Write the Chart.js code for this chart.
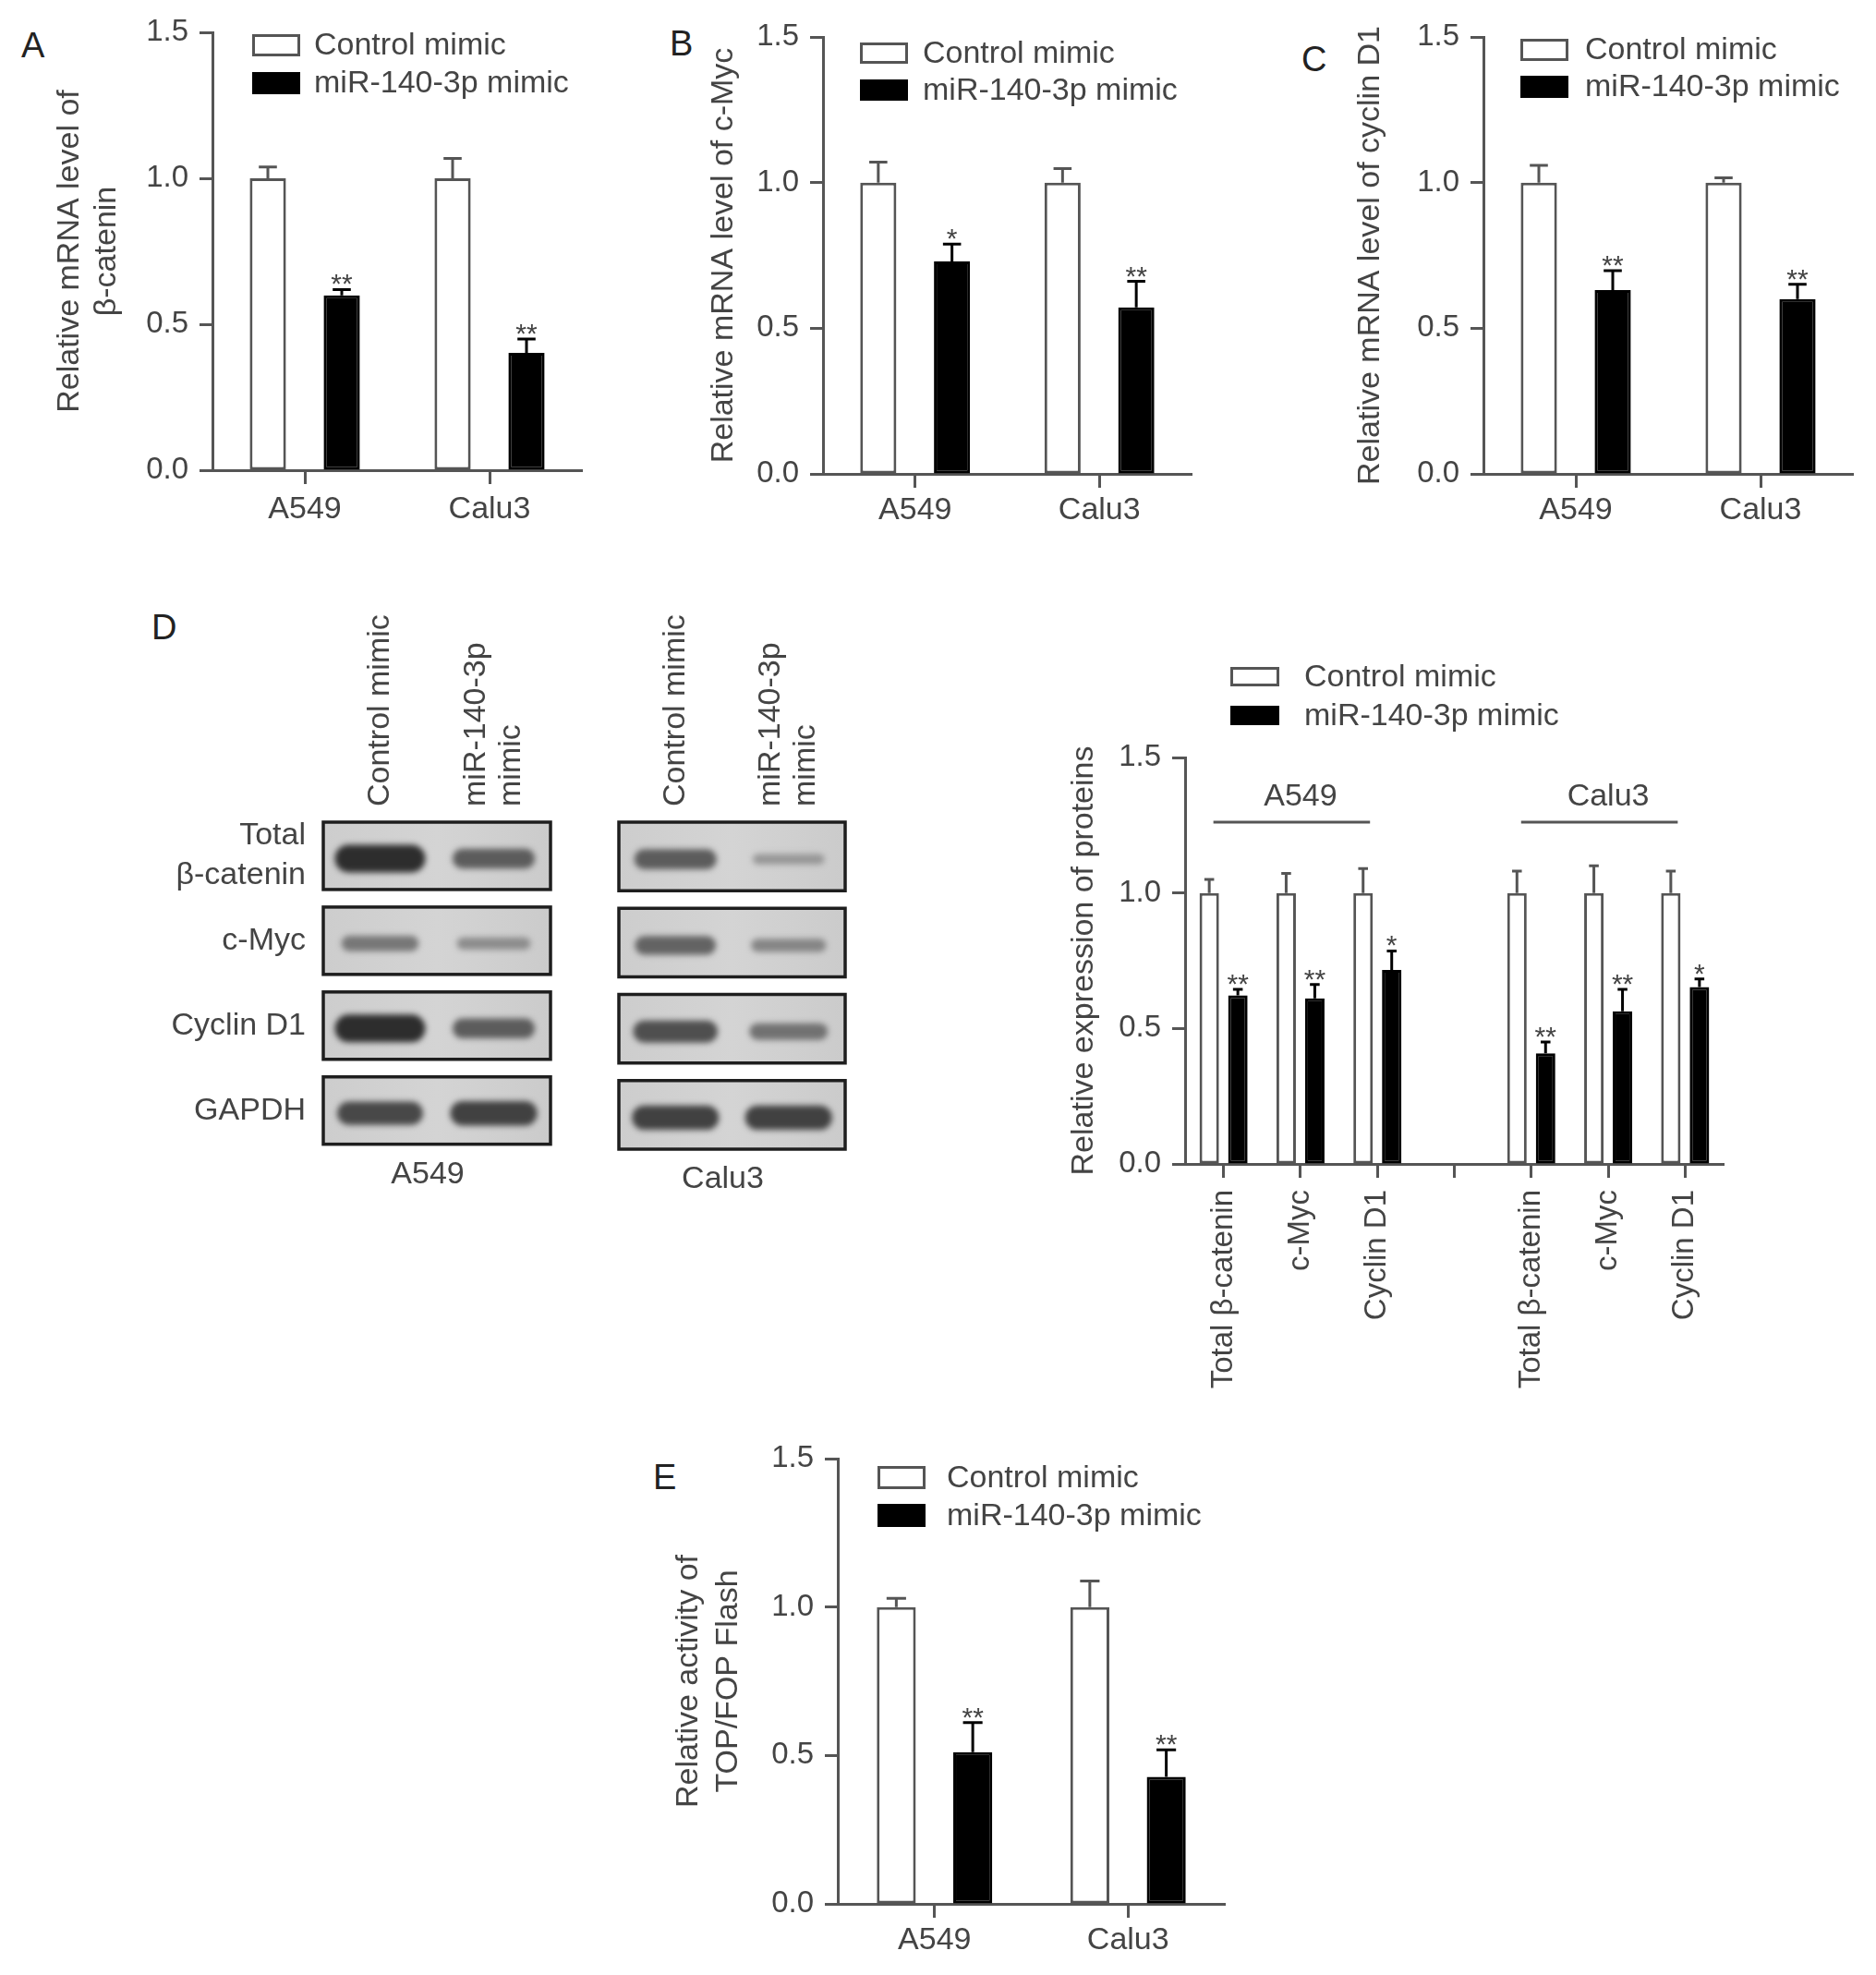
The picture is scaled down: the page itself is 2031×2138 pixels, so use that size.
<!DOCTYPE html>
<html lang="en">
<head>
<meta charset="UTF-8">
<title>miR-140-3p and Wnt/β-catenin targets</title>
<script src="https://cdn.jsdelivr.net/npm/chart.js"></script>
<style>
  html, body { margin: 0; padding: 0; background: #fff; overflow: hidden; }
  #page { position: relative; width: 2031px; height: 2138px; font-family: 'Liberation Sans', Arial, Helvetica, sans-serif; }
  #page canvas { position: absolute; }
  .tag { position: absolute; font-size: 38px; line-height: 1; color: #222; }
</style>
</head>
<body>
<div id="page">
  <div class="tag" style="left:23px;top:30px">A</div>
  <div class="tag" style="left:725px;top:28px">B</div>
  <div class="tag" style="left:1409px;top:45px">C</div>
  <div class="tag" style="left:164px;top:660px">D</div>
  <div class="tag" style="left:707px;top:1580px">E</div>

  <canvas id="chartA" width="660" height="600" style="left:0;top:0"></canvas>
  <canvas id="chartB" width="620" height="600" style="left:700px;top:0"></canvas>
  <canvas id="chartC" width="651" height="600" style="left:1380px;top:0"></canvas>
  <canvas id="blotA549" width="470" height="670" style="left:150px;top:640px"></canvas>
  <canvas id="blotCalu3" width="300" height="670" style="left:640px;top:640px"></canvas>
  <canvas id="chartD" width="770" height="830" style="left:1130px;top:700px"></canvas>
  <canvas id="chartE" width="680" height="598" style="left:680px;top:1540px"></canvas>
</div>
<script>
// ---- data ----
const cellLines = ['A549', 'Calu3'];
const seriesNames = ['Control mimic', 'miR-140-3p mimic'];

// A: beta-catenin mRNA
const betaCtrl = [1.0, 1.0];
const betaCtrlErr = [0.039, 0.068];
const betaMir = [0.599, 0.402];
const betaMirErr = [0.020, 0.047];
const betaSig = ['**', '**'];

// B: c-Myc mRNA
const mycCtrl = [1.0, 1.0];
const mycCtrlErr = [0.070, 0.048];
const mycMir = [0.729, 0.572];
const mycMirErr = [0.060, 0.089];
const mycSig = ['*', '**'];

// C: cyclin D1 mRNA
const cycCtrl = [1.0, 1.0];
const cycCtrlErr = [0.059, 0.016];
const cycMir = [0.631, 0.600];
const cycMirErr = [0.067, 0.051];
const cycSig = ['**', '**'];

// D: protein quantification (middle slot is the gap between cell lines)
const proteinLabels = ['Total β-catenin', 'c-Myc', 'Cyclin D1', '', 'Total β-catenin', 'c-Myc', 'Cyclin D1'];
const protCtrl = [1.0, 1.0, 1.0, null, 1.0, 1.0, 1.0];
const protCtrlErr = [0.050, 0.072, 0.090, null, 0.081, 0.100, 0.081];
const protMir = [0.622, 0.611, 0.716, null, 0.408, 0.563, 0.653];
const protMirErr = [0.022, 0.051, 0.070, null, 0.042, 0.081, 0.030];
const protSig = ['**', '**', '*', '', '**', '**', '*'];
const protGroups = [{ label: 'A549', from: 0, to: 2 }, { label: 'Calu3', from: 4, to: 6 }];

// D: western blot band strength (0..1) per protein row, per lane
const lanes = ['Control mimic', 'miR-140-3p mimic'];
const laneLines = [['Control mimic'], ['miR-140-3p', 'mimic']];
const blotProteins = ['Total β-catenin', 'c-Myc', 'Cyclin D1', 'GAPDH'];
const a549Bands = [[1.0, 0.65], [0.45, 0.30], [1.0, 0.65], [0.80, 0.85]];
const calu3Bands = [[0.65, 0.22], [0.60, 0.35], [0.75, 0.50], [0.85, 0.85]];

// E: TOP/FOP flash
const topCtrl = [1.0, 1.0];
const topCtrlErr = [0.029, 0.088];
const topMir = [0.511, 0.428];
const topMirErr = [0.100, 0.091];
const topSig = ['**', '**'];

// ---- styling ----
const FONT = "'Liberation Sans', Arial, Helvetica, sans-serif";
const AXIS = '#555555';
const TEXT = '#444444';
Chart.defaults.font.family = FONT;
Chart.defaults.color = TEXT;

// error bars (upward only) plus significance stars
const errorBars = {
  id: 'errorBars',
  afterDatasetsDraw(chart) {
    const ctx = chart.ctx;
    const y = chart.scales.y;
    chart.data.datasets.forEach((ds, di) => {
      if (!ds.errors) return;
      chart.getDatasetMeta(di).data.forEach((bar, i) => {
        const v = ds.data[i], e = ds.errors[i];
        if (v == null || e == null) return;
        const top = y.getPixelForValue(v + e);
        const half = bar.width / 4;
        ctx.save();
        ctx.strokeStyle = ds.borderColor;
        ctx.lineWidth = 3;
        ctx.beginPath();
        ctx.moveTo(bar.x, bar.y);
        ctx.lineTo(bar.x, top);
        ctx.moveTo(bar.x - half, top);
        ctx.lineTo(bar.x + half, top);
        ctx.stroke();
        if (ds.marks && ds.marks[i]) {
          ctx.fillStyle = TEXT;
          ctx.font = '30px ' + FONT;
          ctx.textAlign = 'center';
          ctx.textBaseline = 'alphabetic';
          ctx.fillText(ds.marks[i], bar.x, top + 4);
        }
        ctx.restore();
      });
    });
  }
};

// legend with open / filled boxes placed relative to the plot area
const boxLegend = {
  id: 'boxLegend',
  afterDraw(chart, args, opts) {
    const { ctx, chartArea } = chart;
    chart.data.datasets.forEach((ds, i) => {
      const x = chartArea.left + opts.dx;
      const y = chartArea.top + opts.dy + i * opts.step;
      ctx.save();
      ctx.fillStyle = ds.backgroundColor;
      ctx.fillRect(x, y, opts.w, opts.h);
      ctx.strokeStyle = ds.borderColor;
      ctx.lineWidth = 3;
      ctx.strokeRect(x + 1.5, y + 1.5, opts.w - 3, opts.h - 3);
      ctx.fillStyle = TEXT;
      ctx.font = '34px ' + FONT;
      ctx.textBaseline = 'middle';
      ctx.textAlign = 'left';
      ctx.fillText(ds.label, x + opts.w + opts.gap, y + opts.h / 2 + 1);
      ctx.restore();
    });
  }
};

// cell-line brackets over the protein bars
const groupBrackets = {
  id: 'groupBrackets',
  afterDraw(chart, args, opts) {
    const { ctx } = chart;
    const x = chart.scales.x, y = chart.scales.y;
    const ly = y.getPixelForValue(opts.level);
    opts.groups.forEach(g => {
      const x0 = x.getPixelForValue(g.from) - 11;
      const x1 = x.getPixelForValue(g.to) - 8;
      ctx.save();
      ctx.strokeStyle = AXIS;
      ctx.lineWidth = 3;
      ctx.beginPath();
      ctx.moveTo(x0, ly);
      ctx.lineTo(x1, ly);
      ctx.stroke();
      ctx.fillStyle = TEXT;
      ctx.font = '34px ' + FONT;
      ctx.textAlign = 'center';
      ctx.textBaseline = 'middle';
      ctx.fillText(g.label, (x.getPixelForValue(g.from) + x.getPixelForValue(g.to)) / 2, ly - 27);
      ctx.restore();
    });
  }
};

function barPanel(id, o) {
  return new Chart(document.getElementById(id), {
    type: 'bar',
    data: {
      labels: o.labels,
      datasets: [
        { label: seriesNames[0], data: o.ctrl, errors: o.ctrlErr,
          backgroundColor: '#ffffff', borderColor: AXIS, borderWidth: 3, borderSkipped: false,
          categoryPercentage: o.cp, barPercentage: o.bp },
        { label: seriesNames[1], data: o.mir, errors: o.mirErr, marks: o.marks,
          backgroundColor: '#000000', borderColor: '#000000', borderWidth: 3, borderSkipped: false,
          categoryPercentage: o.cp, barPercentage: o.bp }
      ]
    },
    options: {
      responsive: false,
      animation: false,
      devicePixelRatio: 1,
      layout: { padding: o.pad },
      plugins: {
        legend: { display: false },
        tooltip: { enabled: false },
        boxLegend: o.legend,
        groupBrackets: o.brackets || {}
      },
      scales: {
        x: {
          grid: { display: true, drawOnChartArea: false, offset: false, tickLength: 15, tickWidth: 3, tickColor: AXIS },
          border: { display: true, color: AXIS, width: 3 },
          ticks: { font: { size: o.xFont || 34 }, color: TEXT, padding: o.xPad,
                   autoSkip: false, minRotation: o.rot || 0, maxRotation: o.rot || 0 },
          afterFit: s => { s.height = o.xH; }
        },
        y: {
          min: 0, max: 1.5,
          grid: { display: true, drawOnChartArea: false, tickLength: 14, tickWidth: 3, tickColor: AXIS },
          border: { display: true, color: AXIS, width: 3 },
          ticks: { stepSize: 0.5, callback: v => Number(v).toFixed(1), font: { size: 33 }, color: TEXT, padding: 12 },
          title: { display: true, text: o.title, color: TEXT,
                   font: { size: 34, lineHeight: o.titleLH || 1.2 }, padding: { top: o.titlePad, bottom: 0 } },
          afterFit: s => { s.width = o.yW; }
        }
      }
    },
    plugins: [errorBars, boxLegend].concat(o.extra || [])
  });
}

barPanel('chartA', {
  labels: cellLines, ctrl: betaCtrl, ctrlErr: betaCtrlErr, mir: betaMir, mirErr: betaMirErr, marks: betaSig,
  cp: 0.8, bp: 0.49, pad: { top: 35, right: 30, left: 0, bottom: 0 }, yW: 230, xH: 91, xPad: 7,
  title: ['Relative mRNA level of', 'β-catenin'], titleLH: 1.15, titlePad: 56.5,
  legend: { dx: 43, dy: 2, w: 52, h: 24, step: 41, gap: 15 }
});

barPanel('chartB', {
  labels: cellLines, ctrl: mycCtrl, ctrlErr: mycCtrlErr, mir: mycMir, mirErr: mycMirErr, marks: mycSig,
  cp: 0.8, bp: 0.49, pad: { top: 40, right: 30, left: 0, bottom: 0 }, yW: 191, xH: 87, xPad: 4,
  title: 'Relative mRNA level of c-Myc', titlePad: 63.6,
  legend: { dx: 40, dy: 6, w: 52, h: 23, step: 40, gap: 16 }
});

barPanel('chartC', {
  labels: cellLines, ctrl: cycCtrl, ctrlErr: cycCtrlErr, mir: cycMir, mirErr: cycMirErr, marks: cycSig,
  cp: 0.8, bp: 0.49, pad: { top: 40, right: 25, left: 0, bottom: 0 }, yW: 226, xH: 87, xPad: 4,
  title: 'Relative mRNA level of cyclin D1', titlePad: 83.6,
  legend: { dx: 40, dy: 2, w: 52, h: 24, step: 40, gap: 18 }
});

barPanel('chartD', {
  labels: proteinLabels, ctrl: protCtrl, ctrlErr: protCtrlErr, mir: protMir, mirErr: protMirErr, marks: protSig,
  cp: 0.744, bp: 0.68, pad: { top: 120, right: 34, left: 0, bottom: 0 }, yW: 153, xH: 270, xPad: 13,
  rot: 90, xFont: 33,
  title: 'Relative expression of proteins', titlePad: 23.6,
  legend: { dx: 49, dy: -98, w: 53, h: 21, step: 42, gap: 27 },
  brackets: { level: 1.261, groups: protGroups },
  extra: [groupBrackets]
});

barPanel('chartE', {
  labels: cellLines, ctrl: topCtrl, ctrlErr: topCtrlErr, mir: topMir, mirErr: topMirErr, marks: topSig,
  cp: 0.79, bp: 0.51, pad: { top: 39, right: 34, left: 0, bottom: 0 }, yW: 227, xH: 77, xPad: 4,
  title: ['Relative activity of', 'TOP/FOP Flash'], titleLH: 1.265, titlePad: 44.5,
  legend: { dx: 43, dy: 8, w: 52, h: 25, step: 41, gap: 23 }
});

// ---- western blot panels ----
const blotDraw = {
  id: 'blotDraw',
  beforeDatasetsDraw(chart) {
    const { ctx, chartArea } = chart;
    const ys = chart.scales.y;
    const pitch = ys.getPixelForValue(1) - ys.getPixelForValue(0);
    const boxes = blotProteins.map((p, i) => {
      const cy = ys.getPixelForValue(i);
      return { x: chartArea.left, y: cy - pitch / 2 + 9.5, w: chartArea.right - chartArea.left, h: pitch - 19 };
    });
    ctx.save();
    boxes.forEach(b => {
      const g = ctx.createLinearGradient(b.x, 0, b.x + b.w, 0);
      g.addColorStop(0, '#cdcdcd');
      g.addColorStop(0.5, '#d4d4d4');
      g.addColorStop(1, '#cbcbcb');
      ctx.fillStyle = g;
      ctx.fillRect(b.x, b.y, b.w, b.h);
    });
    const ds = chart.data.datasets[0];
    chart.getDatasetMeta(0).data.forEach((pt, i) => {
      const v = ds.data[i].v;
      const w = 72 + 26 * v, h = 6 + 24 * v;
      const c = Math.round(45 + (1 - v) * 135);
      ctx.save();
      ctx.filter = 'blur(3px)';
      ctx.fillStyle = 'rgb(' + c + ',' + c + ',' + c + ')';
      ctx.beginPath();
      ctx.roundRect(pt.x - w / 2, pt.y + 3 - h / 2, w, h, h / 2);
      ctx.fill();
      ctx.restore();
    });
    ctx.strokeStyle = '#1e1e1e';
    ctx.lineWidth = 3.5;
    boxes.forEach(b => ctx.strokeRect(b.x, b.y, b.w, b.h));
    ctx.restore();
  },
  afterDraw(chart, args, opts) {
    const { ctx, chartArea } = chart;
    const xs = chart.scales.x;
    ctx.save();
    ctx.fillStyle = TEXT;
    ctx.font = '34px ' + FONT;
    laneLines.forEach((lines, li) => {
      const px = xs.getPixelForValue(li);
      ctx.save();
      ctx.translate(px, chartArea.top - 7.5);
      ctx.rotate(-Math.PI / 2);
      ctx.textAlign = 'left';
      ctx.textBaseline = 'middle';
      lines.forEach((t, k) => ctx.fillText(t, 0, (k - (lines.length - 1) / 2) * 38));
      ctx.restore();
    });
    ctx.textAlign = 'center';
    ctx.textBaseline = 'middle';
    ctx.fillText(opts.cell, (chartArea.left + chartArea.right) / 2 - 10, chartArea.bottom + 23.5);
    ctx.restore();
  }
};

function blotPanel(id, bands, cell, showNames, pad) {
  const pts = [];
  bands.forEach((row, r) => row.forEach((v, l) => pts.push({ x: lanes[l], y: blotProteins[r], v: v })));
  const yScale = {
    type: 'category', labels: blotProteins, offset: true, display: showNames,
    grid: { display: false, drawTicks: false }, border: { display: false },
    ticks: {
      font: { size: 34, lineHeight: 1.26 }, color: TEXT, padding: 19,
      callback: v => blotProteins[v].startsWith('Total ') ? blotProteins[v].split(' ') : blotProteins[v]
    }
  };
  if (showNames) yScale.afterFit = s => { s.width = 200; };
  return new Chart(document.getElementById(id), {
    type: 'scatter',
    data: { datasets: [{ data: pts, pointRadius: 0, pointHoverRadius: 0 }] },
    options: {
      responsive: false,
      animation: false,
      devicePixelRatio: 1,
      layout: { padding: pad },
      plugins: { legend: { display: false }, tooltip: { enabled: false }, blotDraw: { cell: cell } },
      scales: {
        x: { type: 'category', labels: lanes, offset: true, display: false },
        y: yScale
      }
    },
    plugins: [blotDraw]
  });
}

blotPanel('blotA549', a549Bands, cellLines[0], true, { top: 240.5, bottom: 56.5, left: 0, right: 24 });
blotPanel('blotCalu3', calu3Bands, cellLines[1], false, { top: 240.5, bottom: 56.5, left: 30, right: 25 });
</script>
</body>
</html>
